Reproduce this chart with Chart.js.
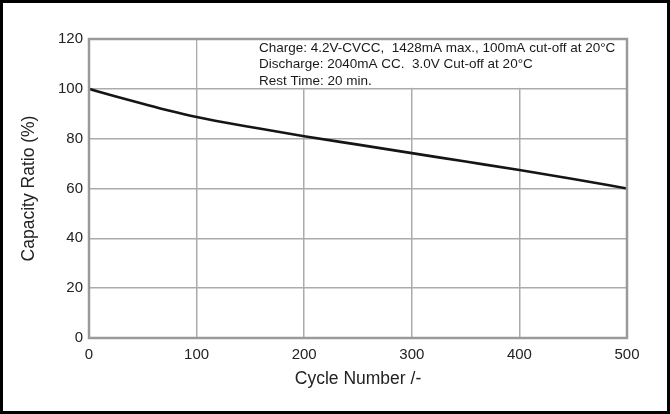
<!DOCTYPE html>
<html>
<head>
<meta charset="utf-8">
<script src="https://cdn.jsdelivr.net/npm/chart.js@4.4.1/dist/chart.umd.min.js"></script>
<style>
html,body{margin:0;padding:0;background:#fff;}
#wrap{width:670px;height:414px;position:relative;}
</style>
</head>
<body>
<div id="wrap"><canvas id="c" width="670" height="414"></canvas></div>
<script>
const cycles = [0, 25, 50, 75, 100, 125, 150, 200, 250, 300, 350, 400, 450, 500];
const capacity = [100, 96.9, 94.0, 91.2, 88.7, 86.6, 84.7, 81.0, 77.6, 74.2, 70.8, 67.4, 63.8, 60.0];
const xTicks = [0, 100, 200, 300, 400, 500];
const yTicks = [0, 20, 40, 60, 80, 100, 120];
const noteLines = [
  "Charge: 4.2V-CVCC,  1428mA max., 100mA cut-off at 20\u00B0C",
  "Discharge: 2040mA CC.  3.0V Cut-off at 20\u00B0C",
  "Rest Time: 20 min."
];

const FONT = "'Liberation Sans', Arial, sans-serif";

const decor = {
  id: 'decor',
  beforeDatasetsDraw(chart) {
    const {ctx, chartArea, scales} = chart;
    const x = scales.x, y = scales.y;
    ctx.save();
    ctx.fillStyle = '#fff';
    const l = x.getPixelForValue(100) + 1;
    const b = y.getPixelForValue(100) - 1;
    ctx.fillRect(l, chartArea.top, chartArea.right - l, b - chartArea.top);
    ctx.fillStyle = '#1a1a1a';
    ctx.font = "13.5px " + FONT;
    ctx.textBaseline = 'middle';
    ctx.textAlign = 'left';
    const tx = x.getPixelForValue(158);
    noteLines.forEach((t, i) => {
      ctx.fillText(t, tx, chartArea.top + 9 + i * 16.5);
    });
    ctx.restore();
  },
  afterDatasetsDraw(chart) {
    const {ctx, chartArea} = chart;
    ctx.save();
    ctx.strokeStyle = '#9a9a9a';
    ctx.lineWidth = 2.5;
    ctx.strokeRect(chartArea.left, chartArea.top, chartArea.right - chartArea.left, chartArea.bottom - chartArea.top);
    ctx.restore();
  },
  afterDraw(chart) {
    const {ctx, width, height} = chart;
    ctx.save();
    ctx.strokeStyle = '#000';
    ctx.lineWidth = 3;
    ctx.strokeRect(1.5, 1.5, width - 3, height - 3);
    ctx.restore();
  }
};

new Chart(document.getElementById('c'), {
  type: 'line',
  data: {
    datasets: [{
      data: cycles.map((c, i) => ({x: c, y: capacity[i]})),
      borderColor: '#151515',
      borderWidth: 2.6,
      pointRadius: 0,
      fill: false,
      cubicInterpolationMode: 'monotone'
    }]
  },
  options: {
    responsive: false,
    animation: false,
    devicePixelRatio: 1,
    layout: {padding: {left: 0, right: 43, top: 39, bottom: 0}},
    plugins: {legend: {display: false}, tooltip: {enabled: false}},
    scales: {
      x: {
        type: 'linear', min: 0, max: 500,
        afterBuildTicks(s) { s.ticks = xTicks.map(v => ({value: v})); },
        afterFit(s) { s.height = 76; },
        grid: {color: '#ababab', lineWidth: 1.5, drawTicks: false},
        border: {display: false},
        ticks: {color: '#222', font: {family: FONT, size: 15}, padding: 8, maxRotation: 0},
        title: {display: true, text: 'Cycle Number /-', color: '#222', font: {family: FONT, size: 17.5}, padding: {top: 0, bottom: 24}}
      },
      y: {
        type: 'linear', min: 0, max: 120,
        afterBuildTicks(s) { s.ticks = yTicks.map(v => ({value: v})); },
        afterFit(s) { s.width = 89; },
        grid: {color: '#ababab', lineWidth: 1.5, drawTicks: false},
        border: {display: false},
        ticks: {color: '#222', font: {family: FONT, size: 15}, padding: 6},
        title: {display: true, text: 'Capacity Ratio (%)', color: '#222', font: {family: FONT, size: 17.5}, padding: {top: 19, bottom: 0}}
      }
    }
  },
  plugins: [decor]
});
</script>
</body>
</html>
